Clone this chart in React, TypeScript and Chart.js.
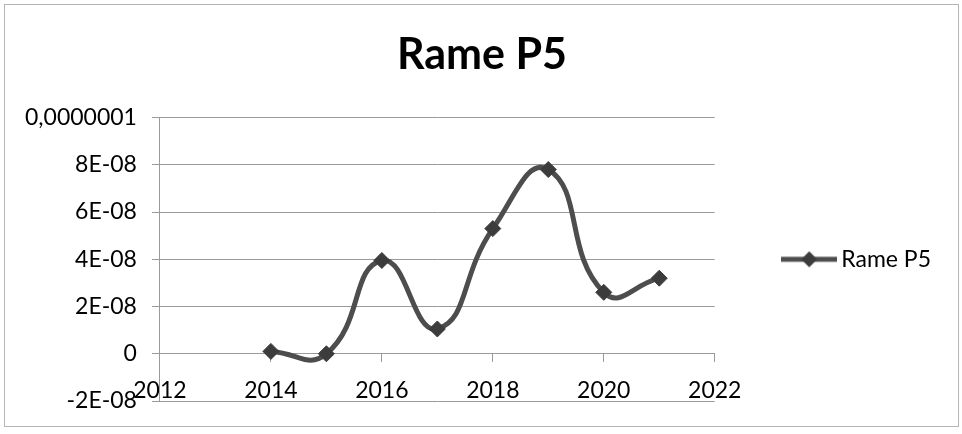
import React, { useEffect, useRef } from "react";
import { Chart, registerables } from "chart.js";

Chart.register(...registerables);

// ---- data ----
const chartTitle = "Rame P5";
const seriesName = "Rame P5";
const years = [2014, 2015, 2016, 2017, 2018, 2019, 2020, 2021];
const values = [0.1e-8, 0, 3.95e-8, 1.05e-8, 5.3e-8, 7.8e-8, 2.6e-8, 3.2e-8];
const yTickLabels = ["-2E-08", "0", "2E-08", "4E-08", "6E-08", "8E-08", "0,0000001"];
const xMin = 2012;
const xMax = 2022;
const xStep = 2;
const yMin = -2e-8;
const yMax = 1e-7;
const yStep = 2e-8;

const FONT = "Lato, 'Open Sans', sans-serif";
const lineColor = "#4d4d4d";
const markerColor = "#3c3c3c";
const gridColor = "#9a9a9a";

function makeLegendSymbol(): HTMLCanvasElement {
  const img = document.createElement("canvas");
  img.width = 56;
  img.height = 20;
  const c = img.getContext("2d");
  if (c) {
    c.strokeStyle = lineColor;
    c.lineWidth = 5;
    c.beginPath();
    c.moveTo(0, 10);
    c.lineTo(56, 10);
    c.stroke();
    c.fillStyle = markerColor;
    c.beginPath();
    c.moveTo(28 - 8, 10);
    c.lineTo(28, 2);
    c.lineTo(28 + 8, 10);
    c.lineTo(28, 18);
    c.closePath();
    c.fill();
  }
  return img;
}

export default function App() {
  const ref = useRef<HTMLCanvasElement | null>(null);

  useEffect(() => {
    if (!ref.current) return;
    const symbol = makeLegendSymbol();
    const chart = new Chart(ref.current, {
      type: "line",
      data: {
        datasets: [
          {
            label: seriesName,
            data: years.map((x, i) => ({ x, y: values[i] })),
            borderColor: lineColor,
            backgroundColor: markerColor,
            borderWidth: 5,
            tension: 0.5,
            pointStyle: "rectRot",
            pointRadius: 8,
            pointBorderWidth: 1,
            pointBorderColor: markerColor,
            pointBackgroundColor: markerColor,
            fill: false,
          },
        ],
      },
      options: {
        animation: false,
        responsive: false,
        maintainAspectRatio: false,
        layout: { padding: { left: 23, right: 21, top: 0, bottom: 33 } },
        plugins: {
          title: {
            display: true,
            text: chartTitle,
            color: "#000",
            font: { family: FONT, size: 43, weight: "bold" },
            padding: { top: 29, bottom: 37 },
          },
          legend: {
            display: true,
            position: "right",
            align: "center",
            fullSize: false,
            labels: {
              usePointStyle: true,
              pointStyleWidth: 41,
              padding: 74,
              color: "#000",
              font: { family: FONT, size: 23 },
              generateLabels: (ch: any) => {
                const items = Chart.defaults.plugins.legend.labels.generateLabels(ch);
                return items.map((it: any) => ({ ...it, pointStyle: symbol }));
              },
            },
          },
          tooltip: { enabled: false },
        },
        scales: {
          x: {
            type: "linear",
            position: { y: 0 } as any,
            min: xMin,
            max: xMax,
            grid: {
              display: true,
              drawOnChartArea: false,
              drawTicks: true,
              tickLength: 8,
              color: gridColor,
            },
            border: { display: true, color: gridColor, width: 1 },
            ticks: {
              stepSize: xStep,
              padding: 15,
              color: "#000",
              font: { family: FONT, size: 23 },
              callback: (v: any) => String(v),
              maxRotation: 0,
              autoSkip: false,
            },
          },
          y: {
            type: "linear",
            min: yMin,
            max: yMax,
            afterFit: (scale: any) => {
              scale.width -= 13;
            },
            grid: {
              display: true,
              drawOnChartArea: true,
              drawTicks: true,
              tickLength: 8,
              color: gridColor,
            },
            border: { display: true, color: gridColor, width: 1 },
            ticks: {
              stepSize: yStep,
              padding: 15,
              color: "#000",
              font: { family: FONT, size: 23 },
              autoSkip: false,
              callback: (v: any) => {
                const idx = Math.round((Number(v) - yMin) / yStep);
                return yTickLabels[idx] ?? String(v);
              },
            },
          },
        },
      },
    });
    return () => chart.destroy();
  }, []);

  return (
    <div style={{ position: "absolute", left: 0, top: 0, width: 962, height: 434, background: "#fff" }}>
      <canvas ref={ref} width={962} height={434} style={{ position: "absolute", left: 0, top: 0, width: 962, height: 434 }} />
      <div
        style={{
          position: "absolute",
          left: 4,
          top: 4,
          width: 955,
          height: 423,
          border: "1px solid #b5b5b5",
          pointerEvents: "none",
          boxSizing: "border-box",
        }}
      />
    </div>
  );
}
